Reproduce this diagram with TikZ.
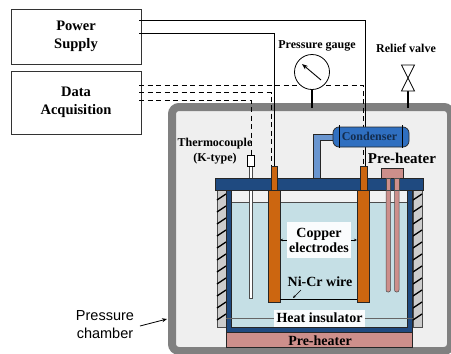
\documentclass[tikz,border=0pt]{standalone}
\usepackage{fontspec}
\setmainfont{Liberation Serif}
\newfontfamily\labelfont{Liberation Sans}
\usetikzlibrary{arrows.meta}
\definecolor{bandgray}{HTML}{808080}
\definecolor{roomgray}{HTML}{EFEFEF}
\definecolor{lidblue}{HTML}{1F4A80}
\definecolor{pipeblue}{HTML}{6A96D0}
\definecolor{condblue}{HTML}{2F6FC0}
\definecolor{water}{HTML}{C5DFE5}
\definecolor{copper}{HTML}{CC6610}
\definecolor{heaterpink}{HTML}{CD8F8B}
\definecolor{hatchgray}{HTML}{CCCCCC}
\tikzset{
	unitbox/.style={draw=black!80,line width=0.7pt,minimum width=130pt,align=center,font=\bfseries\fontsize{14.5}{18}\selectfont},
	tag/.style={align=center,inner sep=0pt,font=\bfseries\fontsize{#1}{15}\selectfont},
	tag/.default=12,
	wire/.style={line width=0.8pt},
	sensorwire/.style={line width=0.6pt,dash pattern=on 5pt off 3.5pt},
	solid part/.style={draw=black!85,line width=0.7pt},
}
\begin{document}
\begin{tikzpicture}[x=1pt,y=-1pt]
		\useasboundingbox (0,0) rectangle (451,354);
		\fill[white] (0,0) rectangle (451,354);
		% chamber
		\draw[line width=8pt,draw=bandgray,fill=roomgray,rounded corners=7pt] (172,107) rectangle (451,351);
		% boxes and leads
		\node[unitbox,minimum height=55pt] (power) at (76,36.5) {Power\\Supply};
		\node[unitbox,minimum height=63pt] (daq) at (76,102.5) {Data\\Acquisition};
		\coordinate (powerA) at (139,20);
		\coordinate (powerB) at (139,33);
		\coordinate (daqA) at (139,85);
		\coordinate (daqB) at (139,92.5);
		\coordinate (daqC) at (139,100);
		\coordinate (leadA) at (365,166);
		\coordinate (leadB) at (274,166);
		\coordinate (senseA) at (363,166);
		\coordinate (senseB) at (271,166);
		\coordinate (senseC) at (251,155);
		\draw[wire] (powerA) -| (leadA);
		\draw[wire] (powerB) -| (leadB);
		\draw[sensorwire] (daqA) -| (senseA);
		\draw[sensorwire] (daqB) -| (senseB);
		\draw[sensorwire] (daqC) -| (senseC);
		% gauge and valve
		\draw[line width=2.5pt] (312,89) -- (312,108);
		\node[draw,circle,fill=white,line width=0.8pt,minimum size=35pt,inner sep=0pt] (gauge) at (312,72) {};
		\draw[line width=0.9pt,-{Stealth[length=6pt,width=4.5pt]}] (321,80) -- (302,64);
		\node[tag] (gaugetag) at (317,46) {Pressure gauge};
		\draw[line width=2.5pt] (408,91) -- (408,108);
		\draw[line width=0.7pt,fill=white] (401.5,65) -- (414.5,65) -- (401.5,91) -- (414.5,91) -- cycle;
		\node[tag] (valvetag) at (406,48) {Relief valve};
		% condenser
		\draw[solid part,fill=pipeblue] (313,178) -- (313,134) -- (333,134) -- (333,140) -- (320,140) -- (320,178) -- cycle;
		\draw[solid part,fill=condblue,rounded corners=6pt] (333,127) rectangle (409,147);
		\draw[line width=0.7pt] (339,125) -- (339,148);
		\draw[line width=0.7pt] (402,125) -- (402,148);
		\node[tag,text=lidblue!60!black] (condensertag) at (369.5,136) {Condenser};
		\node[tag=15] (heatertag) at (402,158) {Pre-heater};
		% vessel
		\fill[white!95!black] (231,190) rectangle (407,202);
		\fill[water] (231,202) rectangle (407,327);
		\draw[line width=0.8pt,draw=black!70] (231,202) -- (407,202);
		\foreach \x in {217,413} {
			\draw[draw=black!70,line width=0.4pt,fill=hatchgray] (\x,190) rectangle (\x+9,327);
			\foreach \y in {197,209,...,325} \draw[line width=1.3pt,color=black] (\x,\y+3) -- (\x+9,\y-3);
		}
		\draw[solid part,fill=lidblue] (226,190) -- (231,190) -- (231,327) -- (407,327) -- (407,190) -- (412,190) -- (412,332) -- (226,332) -- cycle;
		\node[draw=black!85,line width=0.7pt,fill=heaterpink,minimum width=186pt,minimum height=15pt,inner sep=0pt] (bottomheater) at (319,339.5) {};
		\node[tag=14] (bottomtag) at (320,341) {Pre-heater};
		% thermocouple
		\draw[draw=black!70,line width=0.5pt,fill=white] (249,165) rectangle (252,298);
		\draw[line width=0.6pt,fill=white] (247,155) rectangle (254,166);
		\node[tag=12] (couple) at (215,151.5) {Thermocouple\\(K-type)};
		% heater rods
		\foreach \x in {386,394.5} \draw[draw=black!70,line width=0.5pt,fill=heaterpink,rounded corners=2pt] (\x,170) rectangle (\x+4.5,292);
		% lid
		\draw[solid part,fill=lidblue] (215,178) rectangle (423,190);
		\draw[solid part,fill=heaterpink] (381,168) rectangle (403,178);
		\foreach \x in {386,394.5} \draw[draw=black!70,line width=0.5pt,fill=heaterpink] (\x,178) rectangle (\x+4.5,190);
		% electrodes
		\foreach \x / \w in {271/6,360/7} \draw[solid part,fill=copper] (\x,166) rectangle (\x+\w,190);
		\foreach \x in {268,357} \draw[solid part,fill=copper] (\x,190) rectangle (\x+12,302);
		\draw[line width=0.8pt] (280,299) -- (357,299);
		% labels in the vessel
		\node[tag=14,fill=white!92!water,minimum width=64pt,minimum height=36pt] (coppertag) at (319,240) {Copper\\electrodes};
		\draw[line width=0.5pt,-{Stealth[length=3pt,width=2.5pt]}] (coppertag.west) -- (280,240);
		\draw[line width=0.5pt,-{Stealth[length=3pt,width=2.5pt]}] (coppertag.east) -- (357,240);
		\node[tag=14] (wiretag) at (320,282) {Ni-Cr wire};
		\draw[line width=0.5pt,-{Stealth[length=3pt,width=2.5pt]}] (301,290) -- (293,298);
		\node[tag=14,fill=white!92!water,minimum width=91pt,minimum height=17pt] (insulatortag) at (319.5,318) {Heat insulator};
		\draw[line width=1pt,draw=black!60] (226,318) -- (insulatortag.west);
		\draw[line width=1pt,draw=black!60] (insulatortag.east) -- (413,318);
		% chamber label
		\node[align=center,inner sep=0pt,font=\labelfont\fontsize{14.5}{18}\selectfont] (chambertag) at (105,325) {Pressure\\chamber};
		\coordinate (chamberwall) at (167,319);
		\draw[line width=0.8pt,-{Stealth[length=5pt,width=4pt]}] (140,326) -- (chamberwall);
	\end{tikzpicture}
\end{document}
